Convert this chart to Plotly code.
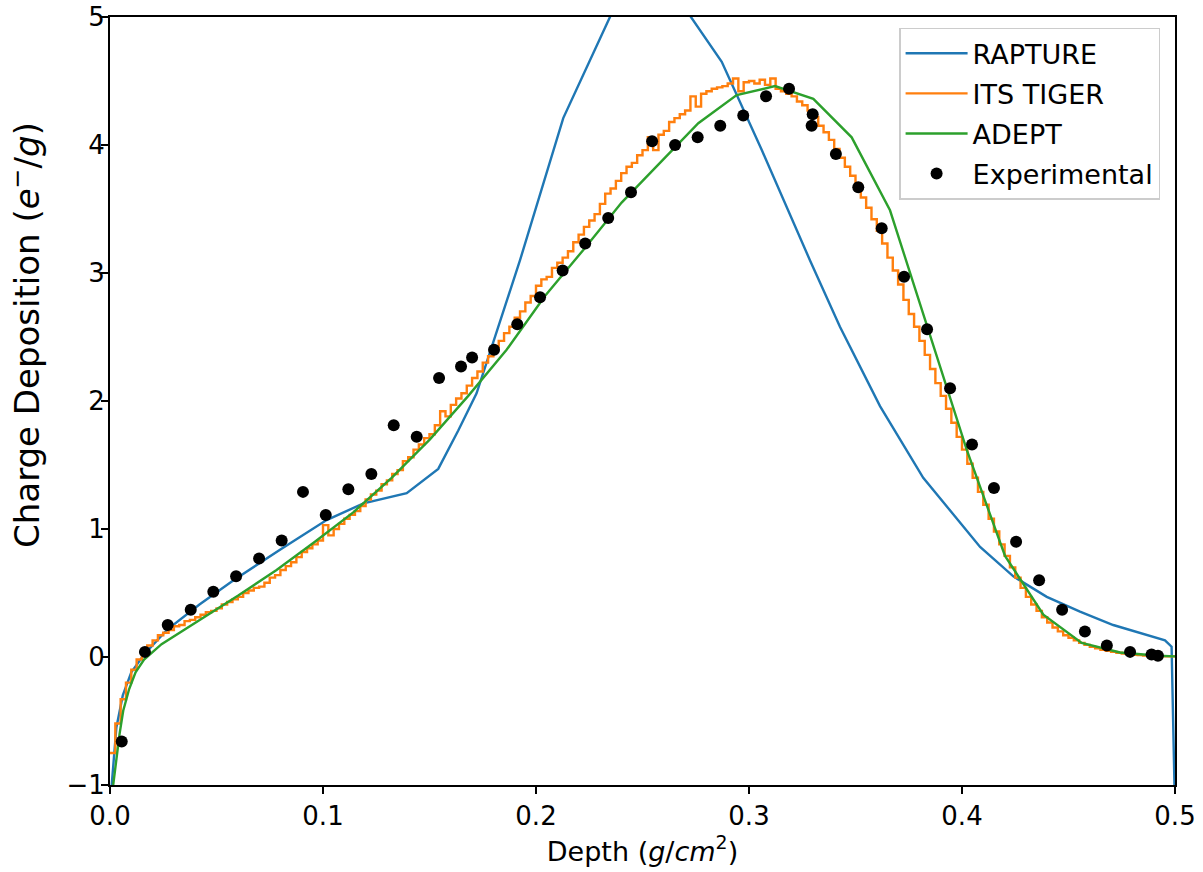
import numpy as np
import plotly.graph_objects as go

# ---------------- data ----------------
rapture_x = [0.0008, 0.003, 0.006, 0.010, 0.016, 0.0266, 0.042, 0.058, 0.080, 0.1017, 0.119,
             0.1393, 0.1541, 0.1635, 0.1721, 0.1925, 0.2128, 0.250, 0.2872, 0.306, 0.3286,
             0.3427, 0.3615, 0.3818, 0.4085, 0.4241, 0.4398, 0.4554, 0.471, 0.4867, 0.4953,
             0.4984, 0.5]
rapture_y = [-1.0, -0.55, -0.30, -0.12, 0.02, 0.21, 0.41, 0.60, 0.84, 1.07, 1.20,
             1.28, 1.47, 1.77, 2.06, 3.10, 4.21, 5.55, 4.65, 3.96, 3.10,
             2.58, 1.96, 1.40, 0.86, 0.63, 0.47, 0.354, 0.25, 0.17, 0.13,
             0.08, -1.2]

its_tiger_bin_width = 0.0025
its_tiger_y = [
    -0.75, -0.52, -0.33, -0.20, -0.10, -0.02, 0.04, 0.09, 0.13, 0.17,
    0.19, 0.21, 0.24, 0.25, 0.28, 0.29, 0.31, 0.33, 0.35, 0.36,
    0.38, 0.41, 0.43, 0.45, 0.47, 0.50, 0.52, 0.54, 0.55, 0.58,
    0.62, 0.64, 0.68, 0.71, 0.74, 0.78, 0.82, 0.85, 0.88, 0.91,
    1.03, 0.95, 1.00, 1.04, 1.08, 1.11, 1.14, 1.18, 1.23, 1.27,
    1.30, 1.35, 1.38, 1.43, 1.46, 1.53, 1.56, 1.62, 1.66, 1.71,
    1.74, 1.81, 1.92, 1.88, 1.97, 2.02, 2.06, 2.12, 2.18, 2.23,
    2.30, 2.35, 2.42, 2.47, 2.53, 2.58, 2.65, 2.70, 2.77, 2.82,
    2.90, 2.95, 2.97, 3.04, 3.08, 3.12, 3.17, 3.24, 3.30, 3.36,
    3.41, 3.46, 3.54, 3.62, 3.66, 3.72, 3.78, 3.83, 3.86, 3.92,
    3.96, 4.06, 3.96, 4.08, 4.11, 4.18, 4.21, 4.24, 4.27, 4.38,
    4.30, 4.40, 4.42, 4.44, 4.45, 4.46, 4.48, 4.52, 4.42, 4.49,
    4.50, 4.48, 4.51, 4.47, 4.52, 4.44, 4.42, 4.40, 4.38, 4.34,
    4.31, 4.27, 4.22, 4.15, 4.10, 4.04, 3.97, 3.90, 3.83, 3.76,
    3.70, 3.59, 3.51, 3.42, 3.33, 3.23, 3.12, 3.02, 2.91, 2.79,
    2.68, 2.58, 2.47, 2.36, 2.25, 2.14, 2.04, 1.94, 1.83, 1.72,
    1.62, 1.51, 1.40, 1.29, 1.19, 1.08, 0.98, 0.88, 0.79, 0.70,
    0.62, 0.54, 0.47, 0.41, 0.36, 0.31, 0.27, 0.23, 0.20, 0.17,
    0.15, 0.13, 0.11, 0.095, 0.08, 0.068, 0.057, 0.048, 0.04, 0.033,
    0.027, 0.022, 0.018, 0.015, 0.012, 0.010, 0.008, 0.007, 0.006, 0.005,
]
its_tiger_edges = list(np.round(np.arange(len(its_tiger_y) + 1) * its_tiger_bin_width, 4))

adept_x = [0.0015, 0.003, 0.0045, 0.0062, 0.009, 0.012, 0.016, 0.0242, 0.0422, 0.0602,
           0.0782, 0.0962, 0.1142, 0.1322, 0.1502, 0.1682, 0.1862, 0.2042, 0.2222, 0.2402,
           0.2582, 0.2762, 0.2942, 0.3122, 0.3302, 0.3482, 0.3662, 0.3842, 0.4022, 0.4202,
           0.4382, 0.4562, 0.4742, 0.4922, 0.5]
adept_y = [-1.0, -0.8, -0.6, -0.42, -0.25, -0.12, -0.02, 0.10, 0.29, 0.48,
           0.68, 0.90, 1.13, 1.40, 1.70, 2.04, 2.40, 2.82, 3.18, 3.55,
           3.86, 4.17, 4.39, 4.46, 4.36, 4.06, 3.49, 2.56, 1.62, 0.79,
           0.33, 0.11, 0.035, 0.01, 0.005]

exp_x = [0.0055, 0.0164, 0.0271, 0.0379, 0.0485, 0.0592, 0.0700, 0.0806, 0.0906, 0.1013,
         0.1119, 0.1227, 0.1332, 0.1440, 0.1545, 0.1648, 0.1700, 0.1803, 0.1912, 0.2019,
         0.2125, 0.2231, 0.2339, 0.2446, 0.2545, 0.2653, 0.2759, 0.2865, 0.2973, 0.3080,
         0.3188, 0.3299, 0.3294, 0.3408, 0.3513, 0.3623, 0.3728, 0.3836, 0.3944, 0.4047,
         0.4150, 0.4254, 0.4362, 0.4470, 0.4577, 0.4680, 0.4789, 0.4890, 0.4920]
exp_y = [-0.66, 0.04, 0.25, 0.37, 0.51, 0.63, 0.77, 0.91, 1.29, 1.11,
         1.31, 1.43, 1.81, 1.72, 2.18, 2.27, 2.34, 2.40, 2.60, 2.81,
         3.02, 3.23, 3.43, 3.63, 4.03, 4.00, 4.06, 4.15, 4.23, 4.38,
         4.44, 4.24, 4.15, 3.93, 3.67, 3.35, 2.97, 2.56, 2.10, 1.66,
         1.32, 0.90, 0.60, 0.37, 0.20, 0.09, 0.04, 0.02, 0.01]

x_ticks = [0.0, 0.1, 0.2, 0.3, 0.4, 0.5]
y_ticks = [-1, 0, 1, 2, 3, 4, 5]

# ---------------- figure ----------------
FONT = "DejaVu Sans"
LW = 2.4

fig = go.Figure()
fig.add_trace(go.Scatter(x=rapture_x, y=rapture_y, mode="lines", name="RAPTURE",
                         line=dict(color="#1f77b4", width=LW), legendgroup="a"))
fig.add_trace(go.Scatter(x=its_tiger_edges, y=its_tiger_y + [its_tiger_y[-1]], mode="lines",
                         name="ITS TIGER", line=dict(color="#ff7f0e", width=LW, shape="hv"),
                         legendgroup="b"))
fig.add_trace(go.Scatter(x=adept_x, y=adept_y, mode="lines", name="ADEPT",
                         line=dict(color="#2ca02c", width=LW), legendgroup="c"))
fig.add_trace(go.Scatter(x=exp_x, y=exp_y, mode="markers", name="Experimental",
                         marker=dict(color="black", size=12), legendgroup="d"))

axis_common = dict(showline=True, linecolor="black", linewidth=2, mirror=True,
                   ticks="outside", ticklen=7, tickwidth=1.6, tickcolor="black",
                   showgrid=False, zeroline=False, automargin=False,
                   tickfont=dict(family=FONT, size=26, color="black"))

fig.update_xaxes(range=[0, 0.5], tickvals=x_ticks, tickformat=".1f",
                 title=dict(text="Depth (<i>g</i>/<i>cm</i><sup>2</sup>)",
                            font=dict(family=FONT, size=27, color="black"), standoff=6),
                 **axis_common)
fig.update_yaxes(range=[-1, 5], tickvals=y_ticks, ticklabelstandoff=-9,
                 **axis_common)

fig.add_annotation(text="Charge Deposition (<i>e</i><sup>−</sup>/<i>g</i>)",
                   xref="paper", yref="paper", x=-0.0798, y=0.586,
                   xanchor="center", yanchor="middle", textangle=-90, showarrow=False,
                   font=dict(family=FONT, size=34, color="black"))

fig.update_layout(
    width=1203, height=872,
    margin=dict(l=110, r=28, t=17, b=87),
    plot_bgcolor="white", paper_bgcolor="white",
    font=dict(family=FONT, color="black"),
    legend=dict(x=0.986, y=0.986, xanchor="right", yanchor="top",
                bgcolor="rgba(255,255,255,0.8)", bordercolor="#cccccc", borderwidth=1.5,
                font=dict(family=FONT, size=27, color="black"),
                itemwidth=62, traceorder="grouped", tracegroupgap=2),
)

fig.write_html("out.html")
